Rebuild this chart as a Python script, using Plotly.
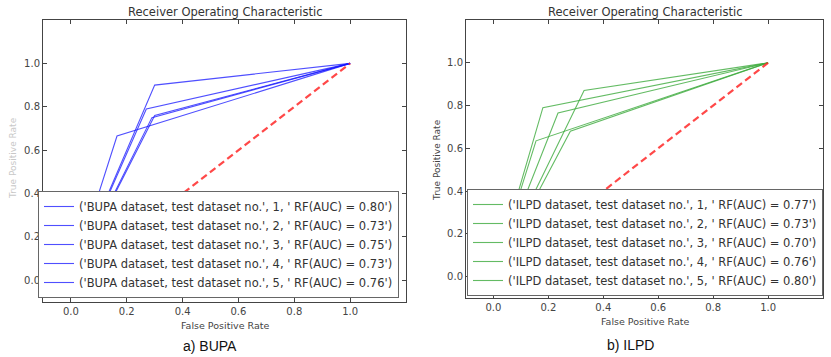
import plotly.graph_objects as go

W, H = 831, 357

# ---- data ----
bupa_fpr = [0.30, 0.30, 0.165, 0.29, 0.27]
bupa_tpr = [0.90, 0.76, 0.665, 0.75, 0.79]
bupa_auc = [0.80, 0.73, 0.75, 0.73, 0.76]

ilpd_fpr = [0.33, 0.155, 0.28, 0.235, 0.18]
ilpd_tpr = [0.87, 0.635, 0.68, 0.765, 0.79]
ilpd_auc = [0.77, 0.73, 0.70, 0.76, 0.80]

diag = [0, 1]
ticks = [0.0, 0.2, 0.4, 0.6, 0.8, 1.0]
tick_text = ["0.0", "0.2", "0.4", "0.6", "0.8", "1.0"]

FONT = "DejaVu Sans"
fig = go.Figure()

def add_set(name, fpr, tpr, auc, color, xa, ya, leg):
    for i, (f, t, a) in enumerate(zip(fpr, tpr, auc)):
        fig.add_trace(go.Scatter(
            x=[0, f, 1], y=[0, t, 1], mode="lines",
            line=dict(color=color, width=1.1),
            name="('%s dataset, test dataset no.', %d, ' RF(AUC) = %.2f')" % (name, i + 1, a),
            xaxis=xa, yaxis=ya, legend=leg, showlegend=True))
    fig.add_trace(go.Scatter(
        x=diag, y=diag, mode="lines",
        line=dict(color="rgba(255,40,40,0.85)", width=2.2, dash="7px,4px"),
        xaxis=xa, yaxis=ya, showlegend=False))

add_set("BUPA", bupa_fpr, bupa_tpr, bupa_auc, "rgba(20,20,255,0.75)", "x", "y", "legend")
add_set("ILPD", ilpd_fpr, ilpd_tpr, ilpd_auc, "rgba(60,170,60,0.8)", "x2", "y2", "legend2")

def ax(domain, anchor):
    return dict(domain=domain, anchor=anchor, range=[-0.1, 1.2], tickvals=ticks, ticktext=tick_text,
                showline=True, linecolor="#444", linewidth=1, mirror="ticks", ticks="inside",
                ticklen=4, tickcolor="#444", showgrid=False, zeroline=False,
                tickfont=dict(family=FONT, size=10, color="#444"))

legstyle = dict(bgcolor="white", bordercolor="#666", borderwidth=1,
                font=dict(family=FONT, size=11.5, color="#333"),
                xanchor="left", yanchor="bottom", tracegroupgap=0, itemwidth=30)

fig.update_layout(
    width=W, height=H, margin=dict(l=0, r=0, t=0, b=0),
    paper_bgcolor="white", plot_bgcolor="white",
    xaxis=ax([43 / W, 406 / W], "y"),
    yaxis=ax([1 - 302 / H, 1 - 20 / H], "x"),
    xaxis2=ax([466 / W, 823 / W], "y2"),
    yaxis2=ax([1 - 298 / H, 1 - 20 / H], "x2"),
    legend=dict(x=38 / W, y=1 - 298 / H, **legstyle),
    legend2=dict(x=467 / W, y=1 - 296 / H, **legstyle),
)

ann = [
    dict(text="Receiver Operating Characteristic", x=225 / W, y=1 - 12 / H, size=11.5, color="#333", fam=FONT, angle=0),
    dict(text="Receiver Operating Characteristic", x=645 / W, y=1 - 12 / H, size=11.5, color="#333", fam=FONT, angle=0),
    dict(text="False Positive Rate", x=225 / W, y=1 - 325 / H, size=9.5, color="#444", fam=FONT, angle=0),
    dict(text="False Positive Rate", x=645 / W, y=1 - 321 / H, size=9.5, color="#444", fam=FONT, angle=0),
    dict(text="True Positive Rate", x=437 / W, y=1 - 160 / H, size=9, color="#444", fam=FONT, angle=-90),
    dict(text="True Positive Rate", x=13 / W, y=1 - 158 / H, size=9, color="#c8c8c8", fam=FONT, angle=-90),
    dict(text="a) BUPA", x=210 / W, y=1 - 346 / H, size=14, color="#111", fam="Liberation Sans", angle=0),
    dict(text="b) ILPD", x=630 / W, y=1 - 345 / H, size=14, color="#111", fam="Liberation Sans", angle=0),
]
for a in ann:
    fig.add_annotation(text=a["text"], x=a["x"], y=a["y"], xref="paper", yref="paper",
                       showarrow=False, xanchor="center", yanchor="middle", textangle=a["angle"],
                       font=dict(family=a["fam"], size=a["size"], color=a["color"]))

fig.write_html("out.html", config={"displayModeBar": False},
               post_script="document.body.style.margin='0';")
